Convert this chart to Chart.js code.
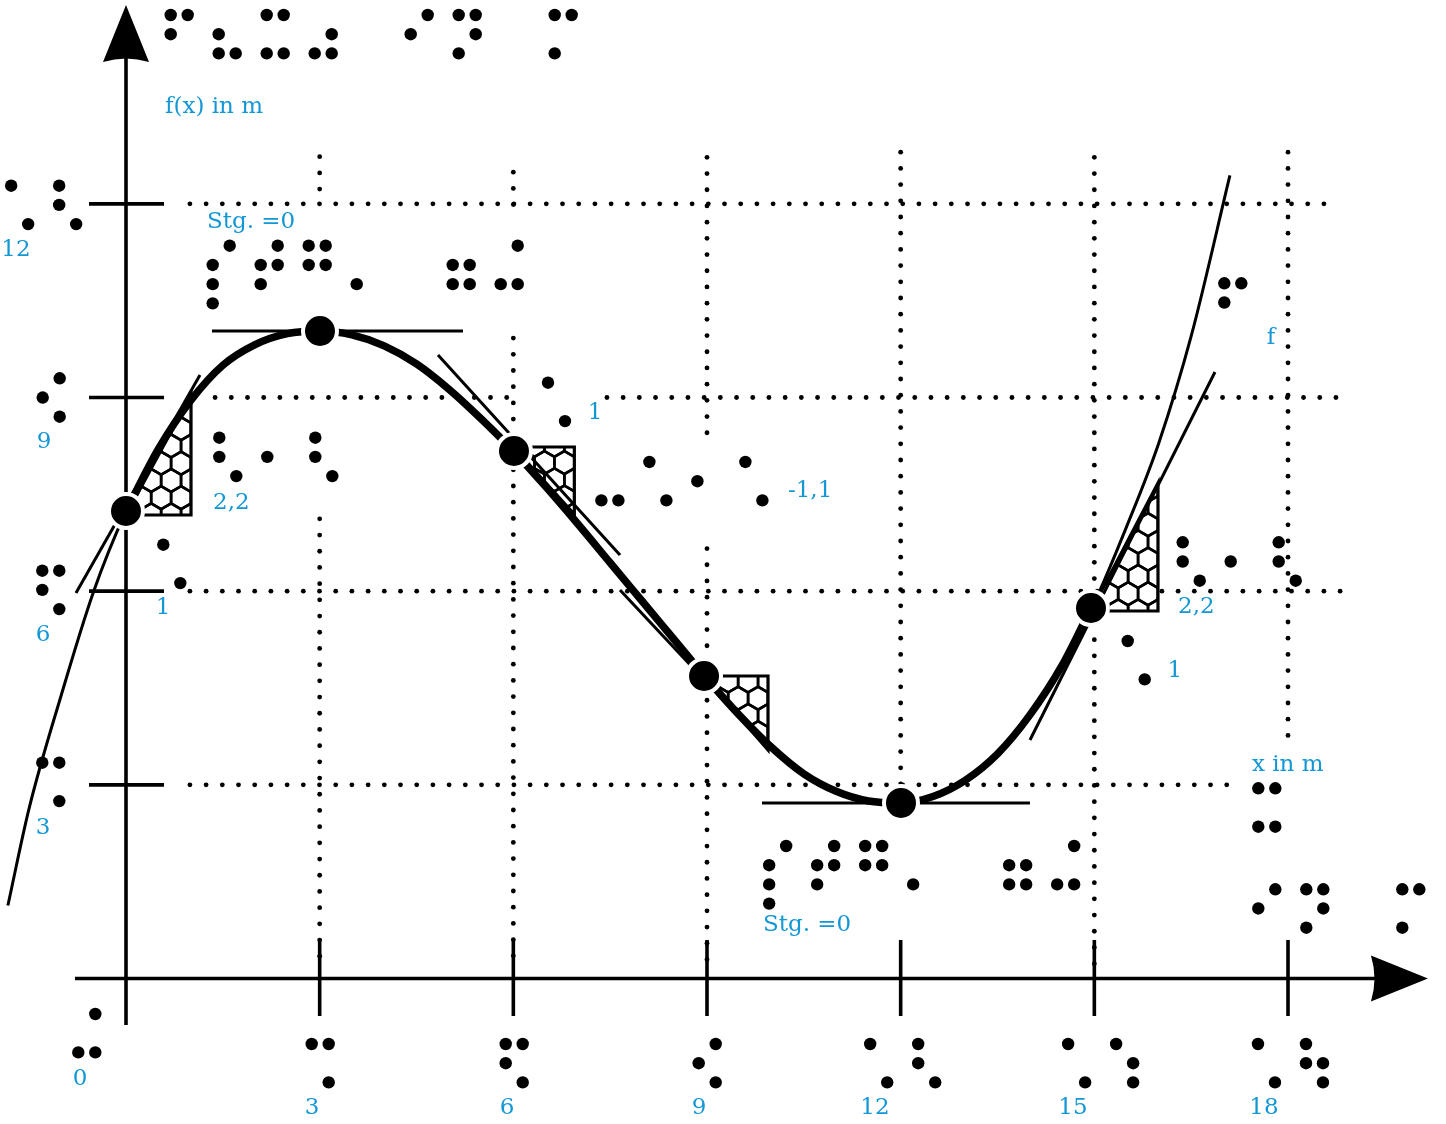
<!DOCTYPE html>
<html><head><meta charset="utf-8">
<script src="https://cdn.jsdelivr.net/npm/chart.js@4/dist/chart.umd.min.js"></script>
<style>html,body{margin:0;padding:0;background:#fff;overflow:hidden}canvas{display:block}</style>
</head><body>
<canvas id="c" width="1446" height="1124"></canvas>
<script>
// ---- data ----
const xTicks = [3, 6, 9, 12, 15, 18];
const yTicks = [3, 6, 9, 12];
const xTickLabels = ['3', '6', '9', '12', '15', '18'];
const yTickLabels = ['3', '6', '9', '12'];
const curveX = [-1.83,-1.5,-1,-0.5,0,0.5,1,1.5,2,2.5,3,3.5,4,4.5,5,5.5,6,6.5,7,7.5,8,8.5,9,9.5,10,10.5,11,11.5,12,12.5,13,13.5,14,14.5,15,15.5,16,16.5,17.1];
const curveY = [1.13,2.64,4.4,6.0,7.24,8.2,8.95,9.5,9.82,9.99,10.03,9.97,9.8,9.52,9.13,8.67,8.17,7.62,7.04,6.44,5.84,5.24,4.64,4.08,3.58,3.17,2.9,2.75,2.72,2.82,3.07,3.48,4.08,4.85,5.82,7.0,8.3,9.95,12.44];
const thickX = [0,0.5,1,1.5,2,2.5,3,3.5,4,4.5,5,5.5,6,6.5,7,7.5,8,8.5,9,9.5,10,10.5,11,11.5,12,12.5,13,13.5,14,14.5,14.95];
const thickY = [7.24,8.2,8.95,9.5,9.82,9.99,10.03,9.97,9.8,9.52,9.13,8.67,8.17,7.62,7.04,6.44,5.84,5.24,4.64,4.08,3.58,3.17,2.9,2.75,2.72,2.82,3.07,3.48,4.08,4.85,5.74];
const markX = [0, 3.005, 6.01, 8.954, 12.005, 14.948];
const markY = [7.242, 10.03, 8.171, 4.686, 2.719, 5.739];
const tangentAX = [-0.775, 1.146], tangentAY = [5.972, 9.35];
const tangentMaxX = [1.332, 5.22], tangentMaxY = [10.03, 10.03];
const tangentBX = [4.833, 7.652], tangentBY = [9.659, 6.56];
const tangentCX = [7.652, 9.976], tangentCY = [6.018, 3.54];
const tangentMinX = [9.852, 14.003], tangentMinY = [2.719, 2.719];
const tangentDX = [14.003, 16.869], tangentDY = [3.694, 9.395];
const slopeLabels = ['2,2', '1', '1', '-1,1', '2,2', '1'];
const slopeLabelsBraille = ['⠣⠂⠣', '⠡', '⠡', '⠤⠡⠂⠡', '⠣⠂⠣', '⠡'];

const pts = (xs, ys) => xs.map((x, i) => ({x, y: ys[i]}));

// ---- annotation layout (data coordinates) ----
const triangles = [
  [[0.0, 7.18], [1.007, 7.18], [1.007, 9.04]],
  [[6.0, 8.233], [6.945, 8.233], [6.945, 7.19]],
  [[8.95, 4.686], [9.945, 4.686], [9.945, 3.54]],
  [[14.948, 5.693], [15.986, 5.693], [15.986, 7.676]]
];
const hGrid = [
  {y: 12, segs: [[0.99, 18.8]]},
  {y: 9, segs: [[1.38, 5.95], [7.45, 18.88]]},
  {y: 6, segs: [[0.99, 18.88]]},
  {y: 3, segs: [[0.99, 17.1]]}
];
const vGrid = [
  {x: 3, segs: [[12.73, 12.06], [7.12, 0.13]]},
  {x: 6, segs: [[12.49, 11.82], [9.92, 8.5], [7.88, 0.13]]},
  {x: 9, segs: [[12.72, 8.34], [6.66, 5.0], [4.31, 0.13]]},
  {x: 12, segs: [[12.8, 2.9]]},
  {x: 15, segs: [[12.72, 5.95], [5.5, 0.13]]},
  {x: 18, segs: [[12.8, 3.7]]}
];
const brailleLabels = [
  ['⠋⠦⠭⠴⠀⠊⠝⠀⠍', 0.6924, 14.925],
  ['⠡⠣', -1.7789, 12.281],
  ['⠪', -1.2904, 9.297],
  ['⠫', -1.2966, 6.317],
  ['⠩', -1.2966, 3.343],
  ['⠬', -0.7389, -0.5499],
  ['⠩', 2.8766, -1.0146],
  ['⠫', 5.8818, -1.0146],
  ['⠪', 8.8714, -1.0146],
  ['⠡⠣', 11.528, -1.0146],
  ['⠡⠱', 14.594, -1.0146],
  ['⠡⠳', 17.535, -1.0146],
  ['⡎⠞⠛⠄⠀⠶⠬', 1.343, 11.351],
  [slopeLabelsBraille[0], 1.4453, 8.377],
  [slopeLabelsBraille[1], 0.5778, 6.72],
  [slopeLabelsBraille[2], 6.537, 9.229],
  [slopeLabelsBraille[3], 7.364, 8.001],
  ['⡎⠞⠛⠄⠀⠶⠬', 9.9628, 2.0525],
  ['⠋', 17.0133, 10.769],
  [slopeLabelsBraille[4], 16.369, 6.757],
  [slopeLabelsBraille[5], 15.517, 5.228],
  ['⠭', 17.54, 2.946],
  ['⠊⠝⠀⠍', 17.54, 1.382]
];
const textLabels = [
  ['f(x) in m', 0.6041, 13.5, 'left'],
  [yTickLabels[3], -1.7039, 11.285, 'center'],
  [yTickLabels[2], -1.2702, 8.311, 'center'],
  [yTickLabels[1], -1.2857, 5.321, 'center'],
  [yTickLabels[0], -1.2857, 2.331, 'center'],
  ['0', -0.7126, -1.5568, 'center'],
  [xTickLabels[0], 2.8812, -2.006, 'center'],
  [xTickLabels[1], 5.9019, -2.006, 'center'],
  [xTickLabels[2], 8.876, -2.006, 'center'],
  [xTickLabels[3], 11.602, -2.006, 'center'],
  [xTickLabels[4], 14.669, -2.006, 'center'],
  [xTickLabels[5], 17.628, -2.006, 'center'],
  ['Stg. =0', 1.2547, 11.716, 'left'],
  ['Stg. =0', 9.867, 0.8287, 'left'],
  [slopeLabels[0], 1.3477, 7.366, 'left'],
  [slopeLabels[1], 0.5731, 5.739, 'center'],
  [slopeLabels[2], 7.265, 8.758, 'center'],
  [slopeLabels[3], 10.254, 7.551, 'left'],
  ['f', 17.736, 9.922, 'center'],
  [slopeLabels[4], 16.296, 5.755, 'left'],
  [slopeLabels[5], 16.248, 4.763, 'center'],
  ['x in m', 17.442, 3.307, 'left']
];

const BLUE = '#1497d5';
const FONT = '23px "DejaVu Serif"';

function dottedLine(ctx, x1, y1, x2, y2) {
  const step = 16.2, r = 2.4;
  const len = Math.hypot(x2 - x1, y2 - y1);
  const n = Math.floor(len / step);
  ctx.fillStyle = '#000';
  for (let i = 0; i <= n; i++) {
    const t = n === 0 ? 0 : (i * step) / len;
    ctx.beginPath();
    ctx.arc(x1 + (x2 - x1) * t, y1 + (y2 - y1) * t, r, 0, Math.PI * 2);
    ctx.fill();
  }
}

function drawBraille(ctx, str, px, py) {
  const pitch = 48, dx = 17, dy = 19.2, r = 6.2;
  ctx.fillStyle = '#000';
  let i = 0;
  const dots = [[1,0,0],[2,0,1],[4,0,2],[8,1,0],[16,1,1],[32,1,2],[64,0,3],[128,1,3]];
  for (const ch of str) {
    const code = ch.codePointAt(0) - 0x2800;
    const cx = px + i * pitch;
    for (const [bit, c, r0] of dots) {
      if (code & bit) {
        ctx.beginPath();
        ctx.arc(cx + c * dx, py + r0 * dy, r, 0, Math.PI * 2);
        ctx.fill();
      }
    }
    i++;
  }
}

function honeyTriangle(ctx, p) {
  ctx.save();
  ctx.beginPath();
  ctx.moveTo(p[0][0], p[0][1]); ctx.lineTo(p[1][0], p[1][1]); ctx.lineTo(p[2][0], p[2][1]); ctx.closePath();
  ctx.fillStyle = '#fff';
  ctx.fill();
  ctx.clip();
  const xs = p.map(q => q[0]), ys = p.map(q => q[1]);
  const minX = Math.min(...xs) - 30, maxX = Math.max(...xs) + 30, minY = Math.min(...ys) - 30, maxY = Math.max(...ys) + 30;
  const s = 11.5, w = Math.sqrt(3) * s;
  ctx.strokeStyle = '#000';
  ctx.lineWidth = 2.6;
  const ox = Math.max(...xs), oy = Math.max(...ys);
  for (let row = -12; row <= 12; row++) {
    const cy = oy + row * 1.5 * s;
    if (cy < minY || cy > maxY) continue;
    const off = (row & 1) ? w / 2 : 0;
    for (let col = -12; col <= 12; col++) {
      const cx = ox + col * w + off;
      if (cx < minX || cx > maxX) continue;
      ctx.beginPath();
      ctx.moveTo(cx, cy - s);
      ctx.lineTo(cx + w / 2, cy - s / 2);
      ctx.lineTo(cx + w / 2, cy + s / 2);
      ctx.lineTo(cx, cy + s);
      ctx.lineTo(cx - w / 2, cy + s / 2);
      ctx.lineTo(cx - w / 2, cy - s / 2);
      ctx.closePath();
      ctx.stroke();
    }
  }
  ctx.restore();
  ctx.beginPath();
  ctx.moveTo(p[0][0], p[0][1]); ctx.lineTo(p[1][0], p[1][1]); ctx.lineTo(p[2][0], p[2][1]); ctx.closePath();
  ctx.lineWidth = 3.2;
  ctx.strokeStyle = '#000';
  ctx.stroke();
}

const decor = {
  id: 'decor',
  beforeDatasetsDraw(chart) {
    const ctx = chart.ctx, sx = chart.scales.x, sy = chart.scales.y;
    const X = v => sx.getPixelForValue(v), Y = v => sy.getPixelForValue(v);
    ctx.save();
    hGrid.forEach(g => g.segs.forEach(s => dottedLine(ctx, X(s[0]), Y(g.y), X(s[1]), Y(g.y))));
    vGrid.forEach(g => g.segs.forEach(s => dottedLine(ctx, X(g.x), Y(s[0]), X(g.x), Y(s[1]))));
    ctx.strokeStyle = '#000'; ctx.fillStyle = '#000'; ctx.lineWidth = 3.6; ctx.lineCap = 'butt';
    const x0 = X(0), y0 = Y(0);
    ctx.beginPath(); ctx.moveTo(x0, Y(-0.72)); ctx.lineTo(x0, Y(14.4)); ctx.stroke();
    ctx.beginPath(); ctx.moveTo(X(-0.79), y0); ctx.lineTo(X(19.5), y0); ctx.stroke();
    const ty = Y(15.08), tx = X(20.168);
    ctx.beginPath(); ctx.moveTo(x0, ty); ctx.lineTo(x0 + 23, ty + 57); ctx.quadraticCurveTo(x0, ty + 50, x0 - 23, ty + 57); ctx.closePath(); ctx.fill();
    ctx.beginPath(); ctx.moveTo(tx, y0); ctx.lineTo(tx - 57, y0 - 23); ctx.quadraticCurveTo(tx - 50, y0, tx - 57, y0 + 23); ctx.closePath(); ctx.fill();
    yTicks.forEach(v => { ctx.beginPath(); ctx.moveTo(X(-0.573), Y(v)); ctx.lineTo(X(0.589), Y(v)); ctx.stroke(); });
    xTicks.forEach(v => { ctx.beginPath(); ctx.moveTo(X(v), Y(0.597)); ctx.lineTo(X(v), Y(-0.581)); ctx.stroke(); });
    triangles.forEach(t => honeyTriangle(ctx, t.map(q => [X(q[0]), Y(q[1])])));
    ctx.restore();
  },
  afterDatasetsDraw(chart) {
    const ctx = chart.ctx, sx = chart.scales.x, sy = chart.scales.y;
    const X = v => sx.getPixelForValue(v), Y = v => sy.getPixelForValue(v);
    ctx.save();
    brailleLabels.forEach(b => drawBraille(ctx, b[0], X(b[1]), Y(b[2])));
    ctx.fillStyle = BLUE; ctx.font = FONT; ctx.textBaseline = 'middle';
    textLabels.forEach(t => { ctx.textAlign = t[3]; ctx.fillText(t[0], X(t[1]), Y(t[2])); });
    ctx.restore();
  }
};

const lineDs = (data, width, order) => ({
  type: 'line', data, borderColor: '#000', borderWidth: width, pointRadius: 0,
  fill: false, showLine: true, order, cubicInterpolationMode: 'monotone', borderCapStyle: 'butt'
});

new Chart(document.getElementById('c'), {
  type: 'scatter',
  data: {
    datasets: [
      {data: pts(markX, markY), pointRadius: 17, pointBackgroundColor: '#000', pointBorderColor: '#fff', pointBorderWidth: 4, order: 0, showLine: false},
      lineDs(pts(thickX, thickY), 7.5, 1),
      lineDs(pts(tangentAX, tangentAY), 3, 2),
      lineDs(pts(tangentMaxX, tangentMaxY), 3, 2),
      lineDs(pts(tangentBX, tangentBY), 3, 2),
      lineDs(pts(tangentCX, tangentCY), 3, 2),
      lineDs(pts(tangentMinX, tangentMinY), 3, 2),
      lineDs(pts(tangentDX, tangentDY), 3, 2),
      lineDs(pts(curveX, curveY), 3, 3)
    ]
  },
  options: {
    responsive: false, animation: false, devicePixelRatio: 1,
    layout: {padding: 0, autoPadding: false},
    plugins: {legend: {display: false}, tooltip: {enabled: false}},
    scales: {
      x: {type: 'linear', display: false, min: -1.9518, max: 20.4474},
      y: {type: 'linear', display: false, min: -2.2539, max: 15.1574}
    }
  },
  plugins: [decor]
});
</script>
</body></html>
